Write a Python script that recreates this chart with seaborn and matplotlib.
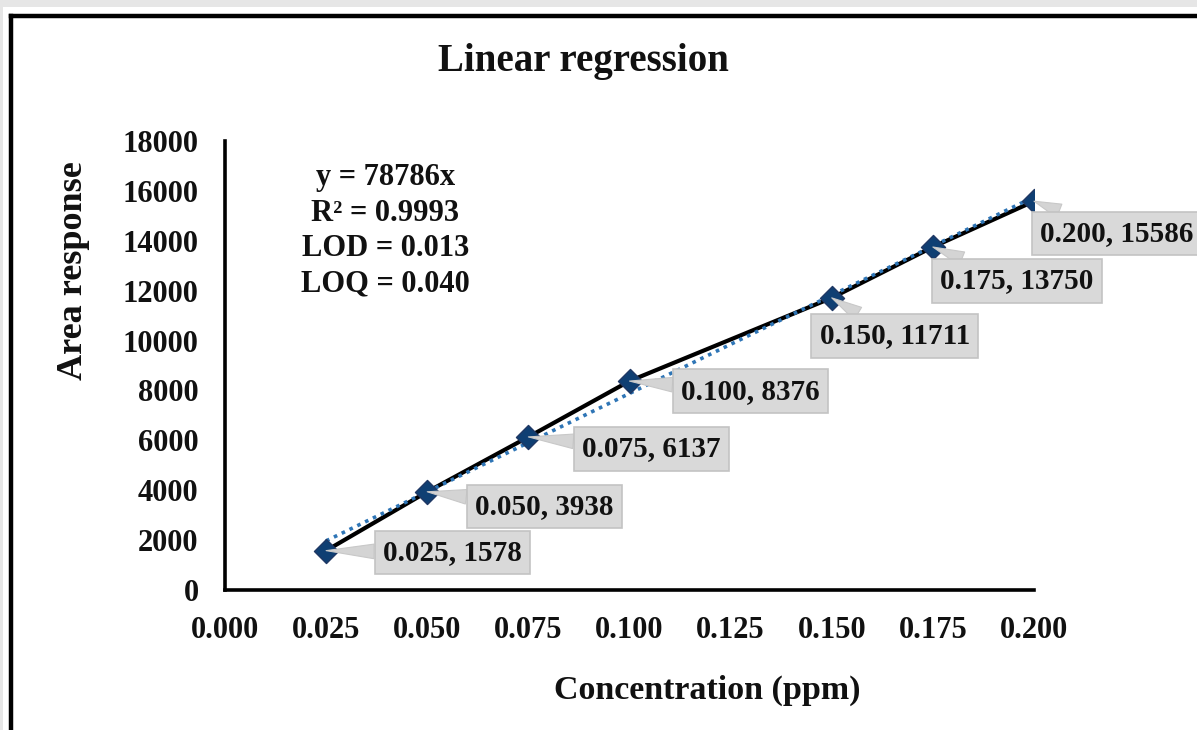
import numpy as np
import pandas as pd
import matplotlib
matplotlib.use("Agg")
import matplotlib.pyplot as plt
from matplotlib.patches import Rectangle
from matplotlib.lines import Line2D
import seaborn as sns

# ---- data ----
conc = [0.025, 0.050, 0.075, 0.100, 0.150, 0.175, 0.200]
area = [1578, 3938, 6137, 8376, 11711, 13750, 15586]
label_text = ["0.025, 1578", "0.050, 3938", "0.075, 6137", "0.100, 8376",
              "0.150, 11711", "0.175, 13750", "0.200, 15586"]
x_ticks = [0.000, 0.025, 0.050, 0.075, 0.100, 0.125, 0.150, 0.175, 0.200]
y_ticks = [0, 2000, 4000, 6000, 8000, 10000, 12000, 14000, 16000, 18000]
stats_text = "y = 78786x\nR² = 0.9993\nLOD = 0.013\nLOQ = 0.040"
title = "Linear regression"
xlabel = "Concentration (ppm)"
ylabel = "Area response"

sns.set_theme(style="white")
plt.rcParams['font.family'] = ['Liberation Serif', 'DejaVu Serif']
plt.rcParams['font.weight'] = 'bold'

W, H = 1197, 730
fig = plt.figure(figsize=(W / 100, H / 100), dpi=100)
fig.patch.set_facecolor('#e6e6e6')

# white panel with black frame (cropped screenshot look)
fig.add_artist(Rectangle((3 / W, 0), 1, (H - 7) / H, transform=fig.transFigure,
                         facecolor='white', edgecolor='none', zorder=-10))
fig.add_artist(Line2D([10.5 / W, 10.5 / W], [0, (H - 15.5) / H], transform=fig.transFigure,
                      color='black', lw=3.2, zorder=-5, solid_capstyle='projecting'))
fig.add_artist(Line2D([10.5 / W, 1.0], [(H - 15.5) / H, (H - 15.5) / H], transform=fig.transFigure,
                      color='black', lw=3.2, zorder=-5, solid_capstyle='projecting'))

ax = fig.add_axes([225 / W, (H - 590) / H, (1034 - 225) / W, (590 - 141) / H])
ax.set_facecolor('none')

df = pd.DataFrame({"conc": conc, "area": area})

# connecting line
sns.lineplot(data=df, x="conc", y="area", ax=ax, color='black', lw=3, zorder=2,
             sort=False)

# linear trendline through origin (least squares from data)
xa = np.array(conc); ya = np.array(area)
slope = (xa * ya).sum() / (xa * xa).sum()
tx = np.array([xa.min(), xa.max()])
ax.plot(tx, slope * tx, linestyle=(0, (1, 1.4)), color='#2e75b6', lw=2.6, zorder=3)

# markers
sns.scatterplot(data=df, x="conc", y="area", ax=ax, marker='D', s=150,
                color='#0f3f73', edgecolor='#1f3864', linewidth=1, zorder=4)

# data labels (callouts), offsets in pixels relative to point
offsets = [(126, -2), (117, -15), (123, -12), (121, -10), (63, -38), (84, -34), (83, -32)]
for x, y, t, (dx, dy) in zip(conc, area, label_text, offsets):
    ax.annotate(t, xy=(x, y), xytext=(dx, dy), textcoords='offset pixels',
                ha='center', va='center', fontsize=21, fontweight='bold', color='#111111',
                bbox=dict(boxstyle='square,pad=0.28', fc='#d9d9d9', ec='#c3c3c3', lw=1.2),
                arrowprops=dict(arrowstyle='wedge,tail_width=0.5,shrink_factor=0.5',
                                fc='#d4d4d4', ec='#c8c8c8', lw=0.8, shrinkA=0, shrinkB=0),
                annotation_clip=False, zorder=5)

ax.text(0.198, 0.951, stats_text, transform=ax.transAxes, ha='center', va='top',
        fontsize=22, fontweight='bold', linespacing=1.3, color='#111111')

ax.set_xlim(0, 0.2)
ax.set_ylim(0, 18000)
ax.set_xticks(x_ticks)
ax.set_xticklabels([f"{v:.3f}" for v in x_ticks])
ax.set_yticks(y_ticks)
ax.set_yticklabels([str(v) for v in y_ticks])
ax.tick_params(axis='both', length=0, labelsize=22, labelcolor='#111111')
ax.tick_params(axis='x', pad=19)
ax.tick_params(axis='y', pad=19)
for lab in ax.get_xticklabels() + ax.get_yticklabels():
    lab.set_fontweight('bold')

for s in ['top', 'right']:
    ax.spines[s].set_visible(False)
for s in ['left', 'bottom']:
    ax.spines[s].set_color('black')
    ax.spines[s].set_linewidth(2.6)

ax.set_xlabel("")
ax.set_ylabel("")
fig.text(707 / W, 1 - 690 / H, xlabel, ha='center', va='center', fontsize=24.5,
         fontweight='bold', color='#111111')
fig.text(73 / W, 1 - 271 / H, ylabel, ha='center', va='center', rotation=90,
         fontsize=26, fontweight='bold', color='#111111')
fig.text(583 / W, 1 - 62 / H, title, ha='center', va='center', fontsize=28,
         fontweight='bold', color='#111111')

fig.savefig("out.png", dpi=100, facecolor=fig.get_facecolor())
